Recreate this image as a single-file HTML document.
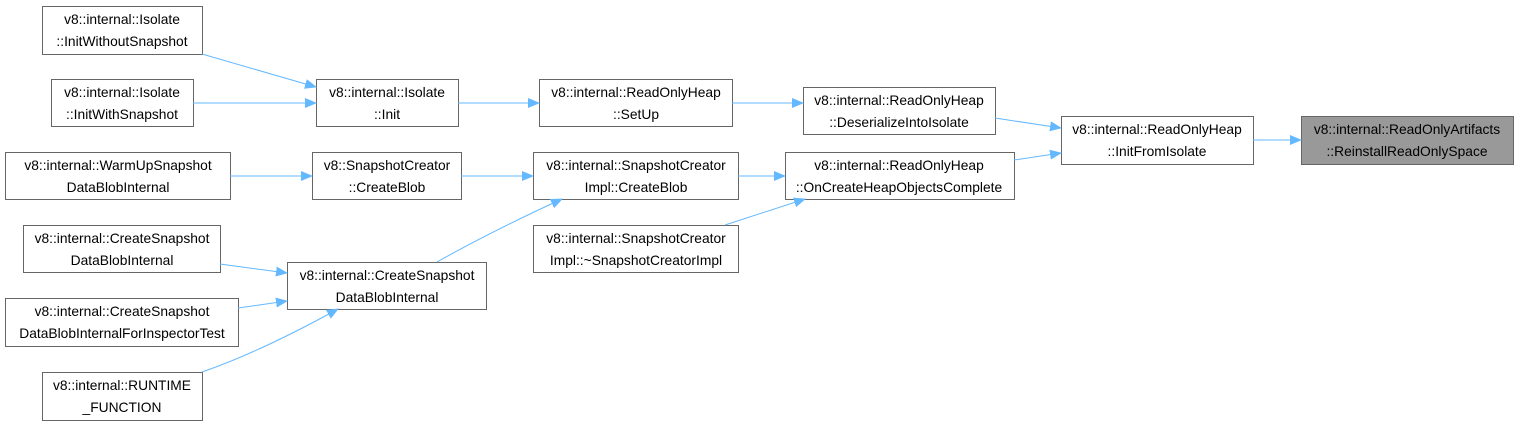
<!DOCTYPE html>
<html><head><meta charset="utf-8"><style>
html,body{margin:0;padding:0;background:#fff;}
svg{display:block;}
text{font-family:"Liberation Sans","DejaVu Sans",sans-serif;font-size:13.8px;fill:#000;}
rect{fill:#fff;stroke:#666;stroke-width:1;}
.e{fill:none;stroke:#63b8ff;stroke-width:1;}
</style></head><body>
<svg width="1519" height="426" viewBox="0 0 1519 426" xmlns="http://www.w3.org/2000/svg">
<defs><marker id="a" markerWidth="12" markerHeight="10" refX="11" refY="5" orient="auto" markerUnits="userSpaceOnUse"><path d="M0,0 L12,5 L0,10 Z" fill="#63b8ff"/></marker></defs>
<g text-anchor="middle">
<rect x="42.5" y="6.5" width="160" height="48"/><text x="122" y="24">v8::internal::Isolate</text><text x="122" y="46">::InitWithoutSnapshot</text>
<rect x="51.5" y="79.5" width="142" height="47"/><text x="122" y="97">v8::internal::Isolate</text><text x="122" y="119">::InitWithSnapshot</text>
<rect x="5.5" y="152.5" width="225" height="47"/><text x="118" y="170">v8::internal::WarmUpSnapshot</text><text x="118" y="192">DataBlobInternal</text>
<rect x="23.5" y="225.5" width="197" height="47"/><text x="122" y="243">v8::internal::CreateSnapshot</text><text x="122" y="265">DataBlobInternal</text>
<rect x="5.5" y="298.5" width="233" height="48"/><text x="122" y="316">v8::internal::CreateSnapshot</text><text x="122" y="338">DataBlobInternalForInspectorTest</text>
<rect x="42.5" y="372.5" width="160" height="48"/><text x="122" y="390">v8::internal::RUNTIME</text><text x="122" y="412">_FUNCTION</text>
<rect x="316.5" y="79.5" width="142" height="47"/><text x="387" y="97">v8::internal::Isolate</text><text x="387" y="119">::Init</text>
<rect x="312.5" y="152.5" width="149" height="47"/><text x="387" y="170">v8::SnapshotCreator</text><text x="387" y="192">::CreateBlob</text>
<rect x="287.5" y="262.5" width="199" height="47"/><text x="387" y="280">v8::internal::CreateSnapshot</text><text x="387" y="302">DataBlobInternal</text>
<rect x="539.5" y="79.5" width="193" height="47"/><text x="636" y="97">v8::internal::ReadOnlyHeap</text><text x="636" y="119">::SetUp</text>
<rect x="533.5" y="152.5" width="205" height="47"/><text x="636" y="170">v8::internal::SnapshotCreator</text><text x="636" y="192">Impl::CreateBlob</text>
<rect x="533.5" y="225.5" width="205" height="47"/><text x="636" y="243">v8::internal::SnapshotCreator</text><text x="636" y="265">Impl::~SnapshotCreatorImpl</text>
<rect x="803.5" y="87.5" width="192" height="47"/><text x="899" y="105">v8::internal::ReadOnlyHeap</text><text x="899" y="127">::DeserializeIntoIsolate</text>
<rect x="785.5" y="152.5" width="229" height="47"/><text x="899" y="170">v8::internal::ReadOnlyHeap</text><text x="899" y="192">::OnCreateHeapObjectsComplete</text>
<rect x="1061.5" y="116.5" width="192" height="48"/><text x="1157" y="134">v8::internal::ReadOnlyHeap</text><text x="1157" y="156">::InitFromIsolate</text>
<rect x="1301.5" y="116.5" width="212" height="48" style="fill:#999;stroke:#666"/><text x="1407" y="134">v8::internal::ReadOnlyArtifacts</text><text x="1407" y="156">::ReinstallReadOnlySpace</text>
</g>
<path class="e" d="M202,54 L316,87" marker-end="url(#a)"/>
<path class="e" d="M193,103 L316,103" marker-end="url(#a)"/>
<path class="e" d="M458,103 L539,103" marker-end="url(#a)"/>
<path class="e" d="M732,103 L803,103" marker-end="url(#a)"/>
<path class="e" d="M995,118 L1061,128" marker-end="url(#a)"/>
<path class="e" d="M1014,160 L1061,153" marker-end="url(#a)"/>
<path class="e" d="M1253,140 L1301,140" marker-end="url(#a)"/>
<path class="e" d="M230,176 L312,176" marker-end="url(#a)"/>
<path class="e" d="M461,176 L533,176" marker-end="url(#a)"/>
<path class="e" d="M738,176 L785,176" marker-end="url(#a)"/>
<path class="e" d="M725,225 L805,199" marker-end="url(#a)"/>
<path class="e" d="M437,262 Q490,232 562,199" marker-end="url(#a)"/>
<path class="e" d="M220,264 L287,273" marker-end="url(#a)"/>
<path class="e" d="M238,308 L287,301" marker-end="url(#a)"/>
<path class="e" d="M202,372 Q260,352 338,309" marker-end="url(#a)"/>
</svg>
</body></html>
